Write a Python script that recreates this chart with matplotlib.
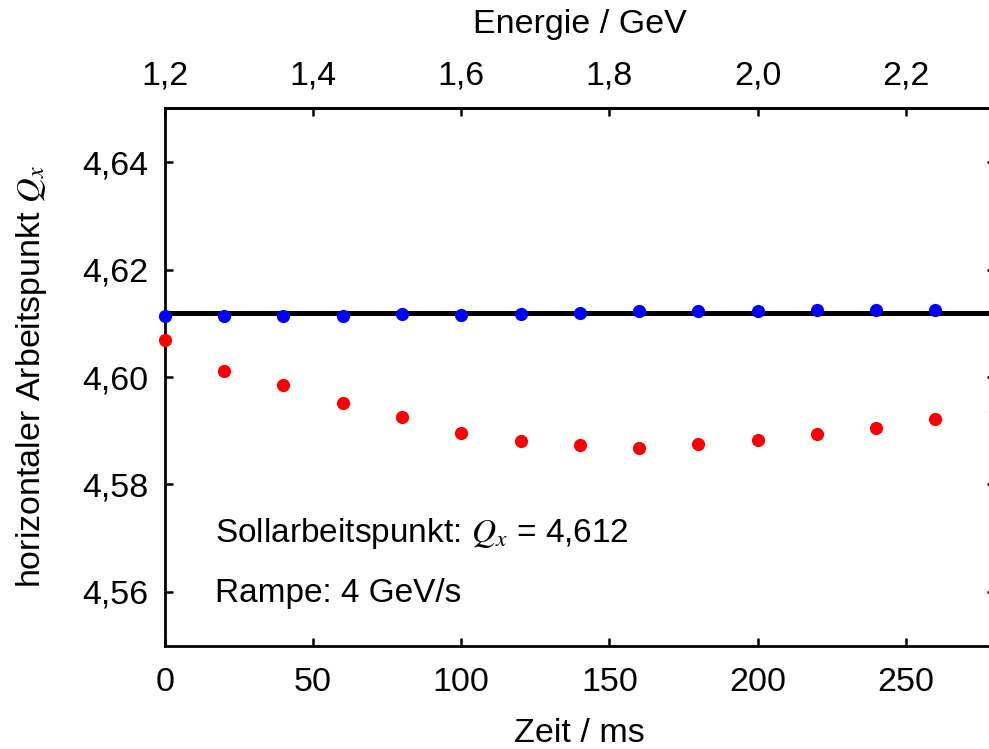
import numpy as np
import matplotlib
matplotlib.use("Agg")
import matplotlib.pyplot as plt
from matplotlib.ticker import FuncFormatter, MultipleLocator, FixedLocator

plt.rcParams['font.family'] = ['Liberation Sans', 'DejaVu Sans']
plt.rcParams['mathtext.fontset'] = 'stix'

# Messdaten
zeit_ms = [0, 20, 40, 60, 80, 100, 120, 140, 160, 180, 200, 220, 240, 260, 280]
qx_blau = [4.6113, 4.6113, 4.6113, 4.6114, 4.6118, 4.6115, 4.6118, 4.6120,
           4.6122, 4.6123, 4.6123, 4.6125, 4.6125, 4.6125, 4.6125]
qx_rot = [4.6069, 4.6012, 4.5986, 4.5952, 4.5926, 4.5896, 4.5880, 4.5874,
          4.5867, 4.5876, 4.5882, 4.5894, 4.5906, 4.5921, 4.5936]
q_soll = 4.612
e_start = 1.2      # GeV
rampe = 4.0        # GeV/s
e_ticks = [1.2, 1.4, 1.6, 1.8, 2.0, 2.2]

fs = 24.5

def komma(fmt):
    return FuncFormatter(lambda v, p: (fmt % v).replace('.', ','))

fig = plt.figure(figsize=(9.89, 7.49), dpi=100)
ax = fig.add_axes([0.1668, 0.1379, 0.8389, 0.7175])

ax.plot([0, 280], [q_soll, q_soll], color='black', lw=3.6, zorder=2, solid_capstyle='butt')
ax.plot(zeit_ms, qx_blau, 'o', color='#0000ff', ms=9.5, mec='none', zorder=4, clip_on=False)
ax.plot(zeit_ms, qx_rot, 'o', color='#ff0000', ms=9.5, mec='none', zorder=4, clip_on=False)

ax.set_xlim(0, 280)
ax.set_ylim(4.55, 4.65)
ax.xaxis.set_major_locator(MultipleLocator(50))
ax.yaxis.set_major_locator(MultipleLocator(0.02))
ax.yaxis.set_major_formatter(komma('%.2f'))
ax.tick_params(direction='in', length=5.5, width=1.8, labelsize=fs, pad=12,
               right=True, top=False)
ax.tick_params(axis='x', pad=15)
for s in ax.spines.values():
    s.set_linewidth(2.0)

ax.set_xlabel('Zeit / ms', fontsize=fs, labelpad=15)
ax.set_ylabel(r'horizontaler Arbeitspunkt $Q_x$', fontsize=fs, labelpad=24)

# obere Achse: Energie
sec = ax.secondary_xaxis('top', functions=(lambda t: e_start + rampe * t / 1000.0,
                                            lambda e: (e - e_start) * 1000.0 / rampe))
sec.xaxis.set_major_locator(FixedLocator(e_ticks))
sec.xaxis.set_major_formatter(komma('%.1f'))
sec.tick_params(direction='in', length=5.5, width=1.8, labelsize=fs, pad=12)
sec.spines['top'].set_linewidth(2.0)
sec.set_xlabel('Energie / GeV', fontsize=fs, labelpad=20)

ax.text(0.0603, 0.1935, r'Sollarbeitspunkt: $Q_x$ = 4,612', transform=ax.transAxes,
        fontsize=24, va='baseline', ha='left')
ax.text(0.0603, 0.0819, 'Rampe: 4 GeV/s', transform=ax.transAxes,
        fontsize=24, va='baseline', ha='left')

fig.savefig('out.png', dpi=100)
